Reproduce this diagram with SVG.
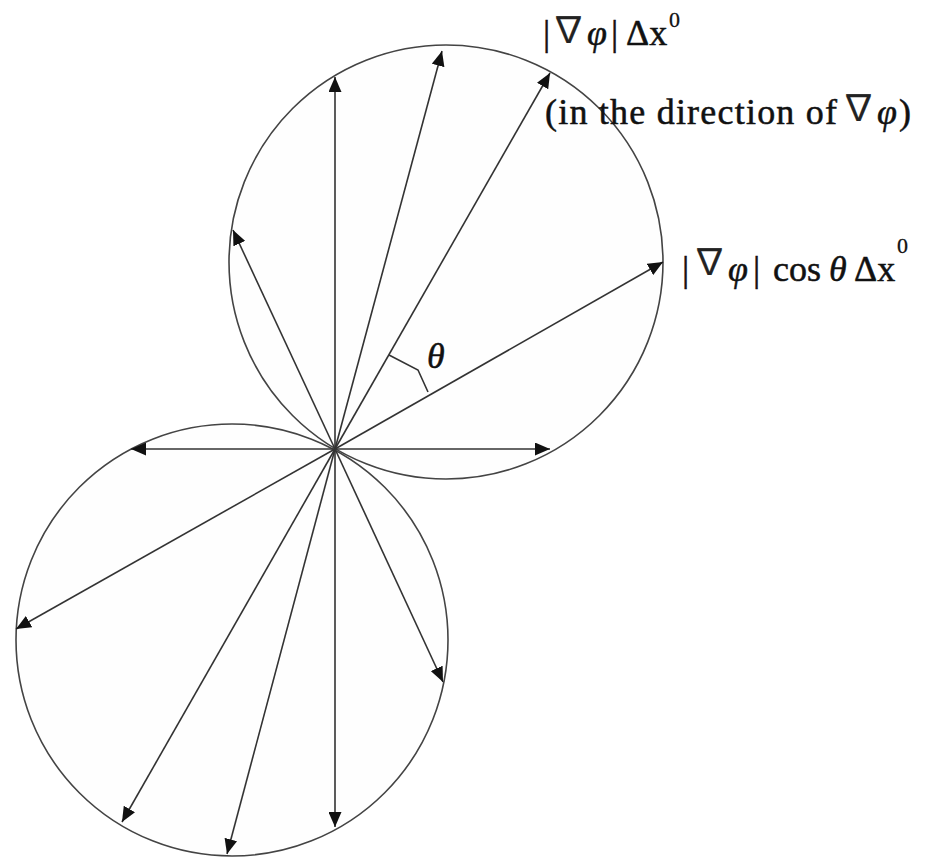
<svg xmlns="http://www.w3.org/2000/svg" width="927" height="857" viewBox="0 0 927 857">
<defs>
<marker id="ah" markerUnits="userSpaceOnUse" markerWidth="16" markerHeight="13" refX="15" refY="6.5" orient="auto">
<path d="M0,0 L15,6.5 L0,13 z" fill="#111"/>
</marker>
<style>
.circ{fill:#fefefe;stroke:#444;stroke-width:1.6}
.ray{stroke:#333;stroke-width:1.6;fill:none;marker-end:url(#ah)}
.t{font-family:"Liberation Serif","Times New Roman",serif;font-size:36px;fill:#111;stroke:#111;stroke-width:0.5}
.it{font-style:italic}
.nab{font-family:"Noto Sans CJK JP","Noto Sans CJK SC",sans-serif;font-size:35px;fill:#222;stroke:#222;stroke-width:0.3}
.sup{font-size:22px;stroke-width:0.3}
</style>
</defs>
<rect width="927" height="857" fill="#fff"/>
<g id="upper-circle"><circle class="circ" cx="446" cy="262" r="217"/></g>
<g id="lower-circle"><circle class="circ" cx="232" cy="640" r="216"/></g>
<g id="connectors">
<line class="ray" x1="335" y1="449" x2="335" y2="77"/>
<line class="ray" x1="335" y1="449" x2="442" y2="51"/>
<line class="ray" x1="335" y1="449" x2="550" y2="73"/>
<line class="ray" x1="335" y1="449" x2="663" y2="262"/>
<line class="ray" x1="335" y1="449" x2="550" y2="449"/>
<line class="ray" x1="335" y1="449" x2="233" y2="230"/>
<line class="ray" x1="335" y1="449" x2="131" y2="449"/>
<line class="ray" x1="335" y1="449" x2="16" y2="629"/>
<line class="ray" x1="335" y1="449" x2="122" y2="822"/>
<line class="ray" x1="335" y1="449" x2="227" y2="854"/>
<line class="ray" x1="335" y1="449" x2="335" y2="827"/>
<line class="ray" x1="335" y1="449" x2="443" y2="682"/>
<polyline points="389,355 418,370 428,392" fill="none" stroke="#333" stroke-width="1.6"/>
</g>
<g id="theta-label"><text class="t it" x="427" y="368" font-size="32">θ</text></g>
<g id="label-grad">
<text class="t"><tspan x="543" y="45">|</tspan><tspan class="nab" x="551" y="42">∇</tspan><tspan class="it" x="587" y="45">φ</tspan><tspan x="611" y="45">|</tspan><tspan x="626" y="45">Δx</tspan><tspan class="sup" x="669" y="27">0</tspan></text>
</g>
<g id="label-direction">
<text class="t"><tspan x="545" y="124" textLength="292" lengthAdjust="spacing">(in the direction of</tspan><tspan class="nab" x="841" y="120">∇</tspan><tspan class="it" x="877" y="124">φ</tspan><tspan x="899" y="124">)</tspan></text>
</g>
<g id="label-cos">
<text class="t"><tspan x="682" y="281">|</tspan><tspan class="nab" x="692" y="274">∇</tspan><tspan class="it" x="728" y="281">φ</tspan><tspan x="753" y="281">|</tspan><tspan x="773" y="281">cos</tspan><tspan class="it" x="829" y="281">θ</tspan><tspan x="854" y="281">Δx</tspan><tspan class="sup" x="897" y="253">0</tspan></text>
</g>
</svg>
